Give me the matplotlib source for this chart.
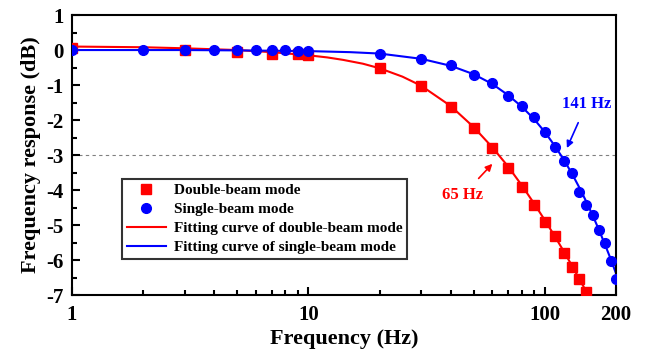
import matplotlib
matplotlib.use('Agg')
import matplotlib.pyplot as plt
from matplotlib.ticker import FixedLocator, NullFormatter, MultipleLocator
import numpy as np

plt.rcParams['font.family'] = ['Liberation Serif', 'DejaVu Serif']
plt.rcParams['font.weight'] = 'bold'

# measured points
f_double = [1, 3, 5, 7, 9, 10, 20, 30, 40, 50, 60, 70, 80, 90, 100, 110, 120, 130, 140, 150]
db_double = [0.05, 0.0, -0.05, -0.1, -0.12, -0.14, -0.5, -1.03, -1.62, -2.22, -2.79, -3.38,
             -3.92, -4.43, -4.9, -5.31, -5.79, -6.19, -6.55, -6.9]

f_single = [1, 2, 3, 4, 5, 6, 7, 8, 9, 10, 20, 30, 40, 50, 60, 70, 80, 90, 100,
            110, 120, 130, 140, 150, 160, 170, 180, 190, 200]
db_single = [0.0, 0.0, 0.0, 0.0, 0.0, 0.0, -0.01, -0.01, -0.02, -0.02, -0.1, -0.27, -0.43,
             -0.7, -0.95, -1.31, -1.59, -1.92, -2.33, -2.78, -3.16, -3.5, -4.05, -4.43,
             -4.71, -5.14, -5.52, -6.02, -6.55]

# fitting curves
f_fit_double = [1, 2, 3, 5, 7, 10, 12, 14, 17, 20, 25, 30, 40, 50, 60, 70, 80, 90, 100,
                110, 120, 130, 140, 150, 160]
db_fit_double = [0.1, 0.08, 0.05, 0.0, -0.06, -0.15, -0.21, -0.28, -0.39, -0.52, -0.76,
                 -1.02, -1.6, -2.2, -2.78, -3.33, -3.87, -4.38, -4.86, -5.31, -5.74,
                 -6.15, -6.54, -6.91, -7.27]
f_fit_single = [1, 3, 5, 10, 15, 20, 30, 40, 50, 60, 70, 80, 90, 100, 110, 120, 130, 140,
                150, 160, 170, 180, 190, 200]
db_fit_single = [0.0, 0.0, -0.01, -0.03, -0.06, -0.1, -0.25, -0.45, -0.69, -0.97, -1.29,
                 -1.62, -1.97, -2.34, -2.73, -3.12, -3.52, -3.93, -4.34, -4.75, -5.16,
                 -5.57, -5.97, -6.38]

fig = plt.figure(figsize=(6.45, 3.5), dpi=100)
ax = fig.add_axes([0.1116, 0.157, 0.8434, 0.8])

ax.axhline(-3, color='gray', lw=0.8, ls=(0, (3, 3)), zorder=1)

ax.plot(f_fit_double, db_fit_double, color='red', lw=1.5, zorder=2,
        label='Fitting curve of double-beam mode')
ax.plot(f_fit_single, db_fit_single, color='blue', lw=1.5, zorder=2,
        label='Fitting curve of single-beam mode')
ax.plot(f_double, db_double, 's', color='red', ms=6.5, zorder=3,
        label='Double-beam mode')
ax.plot(f_single, db_single, 'o', color='blue', ms=7, zorder=4,
        label='Single-beam mode')

ax.set_xscale('log')
ax.set_xlim(1, 200)
ax.set_ylim(-7, 1)
ax.xaxis.set_major_locator(FixedLocator([1, 10, 100, 200]))
ax.set_xticklabels(['1', '10', '100', '200'])
ax.xaxis.set_minor_locator(FixedLocator([2, 3, 4, 5, 6, 7, 8, 9, 20, 30, 40, 50, 60, 70, 80, 90]))
ax.xaxis.set_minor_formatter(NullFormatter())
ax.set_yticks(np.arange(-7, 2, 1))
ax.set_yticklabels([str(v) for v in range(-7, 2)])
ax.yaxis.set_minor_locator(MultipleLocator(0.5))

ax.tick_params(which='both', direction='in', width=1.5, labelsize=15)
ax.tick_params(which='major', length=6, pad=6)
ax.tick_params(which='minor', length=3.5)
ax.tick_params(axis='x', which='major', pad=7)
for sp in ax.spines.values():
    sp.set_linewidth(1.5)

ax.set_xlabel('Frequency (Hz)', fontsize=16, fontweight='bold', labelpad=3)
ax.set_ylabel('Frequency response (dB)', fontsize=16, fontweight='bold', labelpad=4)

handles, labels = ax.get_legend_handles_labels()
order = [2, 3, 0, 1]
leg = ax.legend([handles[i] for i in order], [labels[i] for i in order],
                loc='lower left', bbox_to_anchor=(0.092, 0.13), fontsize=11,
                frameon=True, fancybox=False, edgecolor='black', handlelength=2.6,
                handletextpad=0.5, borderpad=0.3, labelspacing=0.35, borderaxespad=0)
leg.get_frame().set_linewidth(1.5)

ax.annotate('141 Hz', xy=(124, -2.8), xytext=(150, -1.55), color='blue',
            fontsize=12, fontweight='bold', ha='center', va='center',
            arrowprops=dict(arrowstyle='-|>', color='blue', lw=1.2, shrinkA=6, shrinkB=0,
                            mutation_scale=10))
ax.annotate('65 Hz', xy=(60, -3.25), xytext=(45, -4.15), color='red',
            fontsize=12, fontweight='bold', ha='center', va='center',
            arrowprops=dict(arrowstyle='-|>', color='red', lw=1.2, shrinkA=6, shrinkB=0,
                            mutation_scale=10))

fig.savefig('out.png', dpi=100)
